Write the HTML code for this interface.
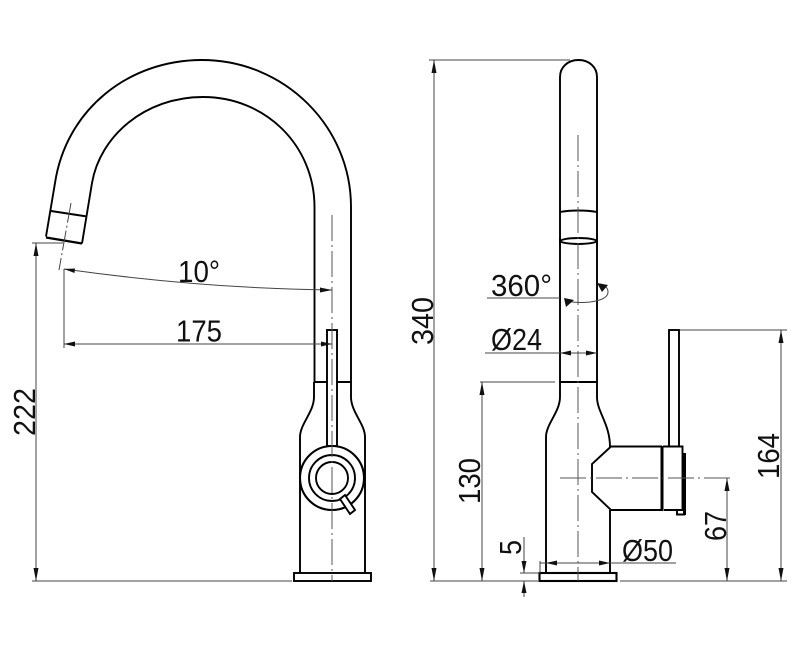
<!DOCTYPE html>
<html>
<head>
<meta charset="utf-8">
<style>
html,body{margin:0;padding:0;background:#fff;width:800px;height:662px;overflow:hidden}
svg{display:block}
text{font-family:"Liberation Sans",sans-serif;font-size:31px;fill:#111}
.m{fill:none;stroke:#000;stroke-width:1.9}
.t{fill:none;stroke:#000;stroke-width:3}
.d{fill:none;stroke:#444;stroke-width:1}
.c{fill:none;stroke:#555;stroke-width:1;stroke-dasharray:26 4 2 4}
.a{fill:#111;stroke:none}
</style>
</head>
<body>
<svg width="800" height="662" viewBox="0 0 800 662" xmlns="http://www.w3.org/2000/svg">
<!-- LEFT VIEW -->
<path class="m" d="M351 382V207C351 126 284 60 202 60C128 60 66 110 55 183L46 236.500"/>
<path class="m" d="M82 243.500L92 183C100 136 145 97 203 97C266 97 314.500 146 314.500 207V382"/>
<path class="m" d="M51 211L87 216.500"/>
<path class="m" d="M46 237.500L82 243.500" style="stroke-width:2.2"/>
<path class="m" d="M314 382H351"/>
<path class="m" d="M314 382V397C314 412 300 424 300 437V573M351 382V397C351 412 365 424 365 437V573"/>
<rect class="m" x="294" y="573" width="77" height="8"/>
<rect x="327" y="330" width="10" height="116" fill="#fff" stroke="#000" stroke-width="1.9"/>
<circle cx="332" cy="478" r="32" fill="#fff" stroke="#000" stroke-width="2.1"/>
<circle cx="332" cy="478" r="23" class="m"/>
<circle cx="332" cy="478" r="16" class="m"/>
<path d="M340 499L350 514L355 510L345 495Z" fill="#fff" stroke="#000" stroke-width="1.9"/>
<!-- left centre lines -->
<path class="c" d="M332 215V581"/>
<path class="d" d="M71 203L59 270" stroke-dasharray="20 3 2 3"/>
<!-- left dimensions -->
<path class="d" d="M32 243H63M36 243V581M32 581H292M64 269V348"/>
<path class="a" d="M36 243L33.500 256H38.500ZM36 581L33.500 568H38.500Z"/>
<path class="d" d="M64 269C150 281 240 289 332 290"/>
<path class="a" d="M64 269L75 268.500L74.500 273ZM332 290L320 287.500V292.500Z"/>
<path class="d" d="M64 344H332"/>
<path class="a" d="M64 344L75 341.500V346.500ZM332 344L321 341.500V346.500Z"/>
<text x="178" y="282" textLength="42" lengthAdjust="spacingAndGlyphs">10°</text>
<text x="176" y="341.500" textLength="46" lengthAdjust="spacingAndGlyphs">175</text>
<text transform="translate(35 436) rotate(-90)" x="0" y="0" textLength="48" lengthAdjust="spacingAndGlyphs">222</text>
<!-- RIGHT VIEW -->
<path class="m" d="M560 382V77C560 67 568 60 578.500 60C589 60 597 67 597 77V382"/>
<path class="m" d="M560 212C570 210 587 210 597 212"/>
<ellipse class="m" cx="578.500" cy="241" rx="18" ry="3"/>
<path class="m" d="M560 245V238M597 245V238"/>
<path class="m" d="M560 382H597"/>
<path class="m" d="M560 382V397C560 412 546 424 546 437V573M597 382V397C597 412 610 424 610 447M610 510V573"/>
<path class="m" d="M662 446.500H611L592 464V492L611 510H662"/>
<path class="t" d="M662 446V511"/>
<path class="m" d="M663 446.500H682.500V510H664"/>
<path class="t" d="M684.500 453V515"/>
<path class="m" d="M677 510V514.500H685"/>
<rect class="m" x="669" y="330" width="10" height="116.500"/>
<rect class="m" x="539.500" y="573" width="77" height="8" style="stroke-width:2.1"/>
<!-- right centre lines -->
<path class="c" d="M578 135V581"/>
<path class="c" d="M560 478H734"/>
<!-- right dimensions -->
<path class="d" d="M429 60H570M434 60V581M430 581H538M620 581H787"/>
<path class="a" d="M434 60L431.500 73H436.500ZM434 581L431.500 568H436.500Z"/>
<path class="d" d="M487 298H560"/>
<path class="d" d="M565 301C590 305 608 300 608 292C608 288 605 285 600 284"/>
<path class="a" d="M564 298L574 300L566 307ZM597 283L608 285L602 292Z"/>
<path class="d" d="M485 353H597"/>
<path class="a" d="M560 353L571 350.500V355.500ZM597 353L586 350.500V355.500Z"/>
<path class="d" d="M480 382H555M482 382V581"/>
<path class="a" d="M482 382L479.500 395H484.500ZM482 581L479.500 568H484.500Z"/>
<path class="d" d="M680 330H787M781 330V581"/>
<path class="a" d="M781 330L778.500 343H783.500ZM781 581L778.500 568H783.500Z"/>
<path class="d" d="M727 478V581"/>
<path class="a" d="M727 478L724.500 491H729.500ZM727 581L724.500 568H729.500Z"/>
<path class="d" d="M540 561V573M540 563H676"/>
<path class="a" d="M546 563L557 560.500V565.500ZM610 563L599 560.500V565.500Z"/>
<path class="d" d="M524 537V573M524 581V597M520 573H540"/>
<path class="a" d="M524 573L521.500 561H526.500ZM524 581L521.500 593H526.500Z"/>
<text x="491" y="296" textLength="61" lengthAdjust="spacingAndGlyphs">360°</text>
<text x="491" y="350" textLength="51" lengthAdjust="spacingAndGlyphs">Ø24</text>
<text x="622" y="561" textLength="51" lengthAdjust="spacingAndGlyphs">Ø50</text>
<text transform="translate(433 345) rotate(-90)" textLength="48" lengthAdjust="spacingAndGlyphs">340</text>
<text transform="translate(480 504) rotate(-90)" textLength="46" lengthAdjust="spacingAndGlyphs">130</text>
<text transform="translate(779 479) rotate(-90)" textLength="46" lengthAdjust="spacingAndGlyphs">164</text>
<text transform="translate(726 541) rotate(-90)" textLength="30" lengthAdjust="spacingAndGlyphs">67</text>
<text transform="translate(521 555) rotate(-90)" textLength="15" lengthAdjust="spacingAndGlyphs">5</text>
</svg>
</body>
</html>
